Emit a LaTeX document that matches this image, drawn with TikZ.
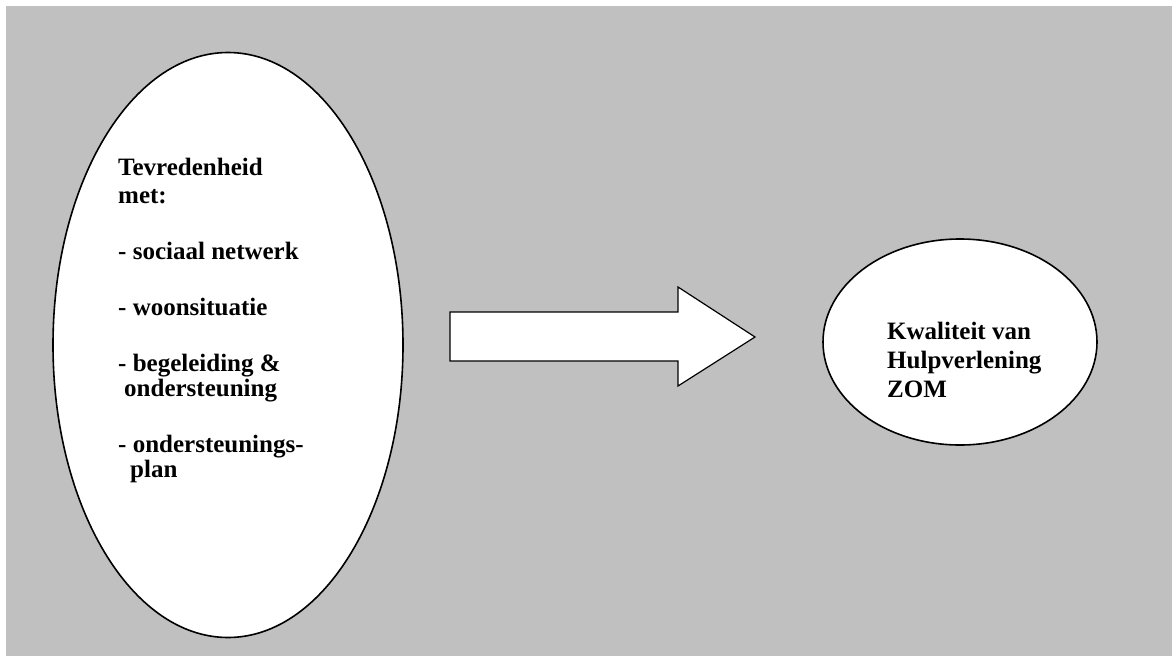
\documentclass[tikz,border=0pt]{standalone}
\usepackage{fontspec}
\setmainfont{Liberation Serif}
\usetikzlibrary{shapes.geometric}
\definecolor{bggray}{RGB}{192,192,192}

\begin{document}
\begin{tikzpicture}[x=1pt, y=-1pt,
    oval/.style={ellipse, draw=black, line width=1.6pt, fill=white, inner sep=0pt},
    label text/.style={font=\fontsize{25}{28}\selectfont\bfseries, align=left, inner sep=0pt}]
  % Page and grey background
  \useasboundingbox (0,0) rectangle (1172,656);
  \fill[bggray] (6,6) rectangle (1172,656);

  % Left: satisfaction oval
  \node[oval, minimum width=350pt, minimum height=585pt] (tevr) at (228,345) {};
  \node[label text, anchor=base west] (tevrtxt) at (118,477)
    {Tevredenheid\\[0pt]
     met:\\[28pt]
     - sociaal netwerk\\[28pt]
     - woonsituatie\\[28pt]
     - begeleiding \&\\[-3pt]
     \hspace{6pt}ondersteuning\\[28pt]
     - ondersteunings-\\[-3pt]
     \hspace{12pt}plan};

  % Middle: block arrow
  \draw[line width=1.2pt, fill=white]
    (450,312) -- (678,312) -- (678,287) -- (755,337)
    -- (678,386) -- (678,361) -- (450,361) -- cycle;

  % Right: quality oval
  \node[oval, minimum width=274pt, minimum height=206pt] (kwal) at (960,342) {};
  \node[label text, anchor=base west] (kwaltxt) at (887,397)
    {Kwaliteit van\\[1pt]Hulpverlening\\[1pt]ZOM};
\end{tikzpicture}
\end{document}
